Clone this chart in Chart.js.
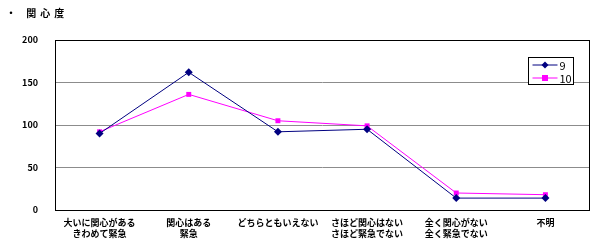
<!DOCTYPE html>
<html>
<head>
<meta charset="utf-8">
<script src="https://cdn.jsdelivr.net/npm/chart.js@4.4.0/dist/chart.umd.min.js"></script>
<style>
  html, body { margin: 0; padding: 0; background: #fff; }
  #wrap { position: relative; width: 612px; height: 247px; }
</style>
</head>
<body>
<div id="wrap"><canvas id="chart" width="612" height="247"></canvas></div>
<script>
// ===== DATA =====
const categories = [
  ["大いに関心がある", "きわめて緊急"],
  ["関心はある", "緊急"],
  "どちらともいえない",
  ["さほど関心はない", "さほど緊急でない"],
  ["全く関心がない", "全く緊急でない"],
  "不明"
];
const seriesNames = ["9", "10"];
const series9  = [90, 162, 92, 95, 14, 14];
const series10 = [92, 136, 105, 99, 20, 18];
const yTicks = [0, 50, 100, 150, 200];

const FONT = "'Noto Sans CJK JP', 'DejaVu Sans', sans-serif";

// ===== PLOT FRAME + TITLE + LEGEND =====
const framePlugin = {
  id: "frame",
  beforeDatasetsDraw(chart) {
    const { ctx, chartArea: a } = chart;
    ctx.save();
    ctx.strokeStyle = "#000";
    ctx.lineWidth = 1;
    ctx.strokeRect(Math.round(a.left) + 0.5, Math.round(a.top) + 0.5,
                   Math.round(a.right - a.left) - 1, Math.round(a.bottom - a.top));
    ctx.restore();
  },
  afterDraw(chart) {
    const { ctx } = chart;
    ctx.save();
    // title
    ctx.fillStyle = "#000";
    ctx.font = "bold 10px " + FONT;
    ctx.textBaseline = "middle";
    ctx.letterSpacing = "4px";
    ctx.fillText("・ 関心度", 6, 13);
    ctx.letterSpacing = "0px";

    // legend box
    const bx = 528.5, by = 57.5, bw = 45, bh = 27;
    ctx.fillStyle = "#fff";
    ctx.fillRect(bx, by, bw, bh);
    ctx.strokeStyle = "#000";
    ctx.lineWidth = 1;
    ctx.strokeRect(bx, by, bw, bh);
    chart.data.datasets.forEach((ds, i) => {
      const y = Math.round(by + 7 + i * 13);
      ctx.strokeStyle = ds.borderColor;
      ctx.beginPath();
      ctx.moveTo(bx + 4, y);
      ctx.lineTo(bx + 29, y);
      ctx.stroke();
      ctx.fillStyle = ds.borderColor;
      const cx = bx + 16.5;
      if (ds.pointStyle === "rectRot") {
        ctx.beginPath();
        ctx.moveTo(cx, y - 3.5); ctx.lineTo(cx + 3.5, y); ctx.lineTo(cx, y + 3.5); ctx.lineTo(cx - 3.5, y);
        ctx.closePath(); ctx.fill();
      } else {
        ctx.fillRect(cx - 3, y - 3, 6, 6);
      }
      ctx.fillStyle = "#000";
      ctx.font = "11px " + FONT;
      ctx.fillText(ds.label, bx + 31, y + 1);
    });
    ctx.restore();
  }
};

new Chart(document.getElementById("chart"), {
  type: "line",
  data: {
    labels: categories,
    datasets: [
      { label: seriesNames[0], data: series9, borderColor: "#000080", backgroundColor: "#000080",
        borderWidth: 1, pointStyle: "rectRot", pointRadius: 4, pointBorderWidth: 0, tension: 0 },
      { label: seriesNames[1], data: series10, borderColor: "#FF00FF", backgroundColor: "#FF00FF",
        borderWidth: 1, pointStyle: "rect", pointRadius: 3.5, pointBorderWidth: 0, tension: 0 }
    ]
  },
  options: {
    responsive: false,
    animation: false,
    layout: { padding: { top: 40, right: 22, left: 0, bottom: 0 } },
    plugins: { legend: { display: false }, tooltip: { enabled: false } },
    scales: {
      x: {
        offset: true,
        grid: { display: false, drawTicks: false },
        border: { display: false },
        ticks: { color: "#000", font: { family: FONT, size: 9, weight: "bold" }, padding: 7, maxRotation: 0, autoSkip: false },
        afterFit(scale) { scale.height = 37; }
      },
      y: {
        min: 0, max: 200,
        afterBuildTicks(scale) { scale.ticks = yTicks.map(v => ({ value: v })); },
        grid: {
          color: ctx => (ctx.tick.value === 0 || ctx.tick.value === 200) ? "rgba(0,0,0,0)" : "#8c8c8c",
          drawTicks: false, lineWidth: 1
        },
        border: { display: false },
        ticks: { color: "#000", font: { family: FONT, size: 9, weight: "bold" }, padding: 17 },
        afterFit(scale) { scale.width = 55; }
      }
    }
  },
  plugins: [framePlugin]
});
</script>
</body>
</html>
